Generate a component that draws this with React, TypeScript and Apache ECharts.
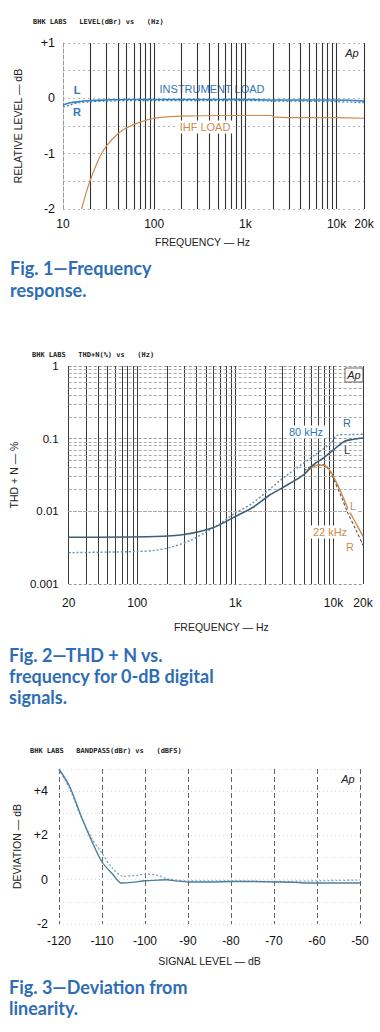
import React, { useEffect, useRef } from 'react';
import * as echarts from 'echarts';

// ---------- Fig. 1: frequency response ----------
const fig1Freq = [10, 12, 15, 20, 30, 50, 100, 200, 500, 1000, 2000, 5000, 10000, 20000];
const fig1InstL = [-0.12, -0.08, -0.06, -0.04, -0.03, -0.02, -0.02, -0.02, -0.02, -0.02, -0.03, -0.03, -0.03, -0.05];
const fig1InstR = [-0.16, -0.12, -0.08, -0.06, -0.05, -0.04, -0.04, -0.04, -0.04, -0.04, -0.05, -0.05, -0.06, -0.08];
const fig1IhfFreq = [16, 18, 20, 25, 30, 40, 50, 70, 100, 150, 200, 500, 1000, 1900, 2100, 5000, 10000, 20000];
const fig1Ihf = [-2.0, -1.7, -1.47, -1.08, -0.86, -0.64, -0.53, -0.43, -0.36, -0.33, -0.32, -0.31, -0.31, -0.31, -0.34, -0.35, -0.35, -0.36];
const fig1GridFreqs = [20, 30, 40, 50, 60, 70, 80, 90, 100, 200, 300, 400, 500, 600, 700, 800, 900, 1000, 2000, 3000, 4000, 5000, 6000, 7000, 8000, 9000, 10000, 20000];

// ---------- Fig. 2: THD+N vs frequency ----------
const fig2FreqL = [20, 150, 300, 600, 1000, 1500, 2200, 3000, 5000, 6000, 8000, 10000, 13000, 16000, 20000];
const fig2L80 = [0.0044, 0.0045, 0.0048, 0.006, 0.0085, 0.0113, 0.0165, 0.021, 0.032, 0.042, 0.055, 0.07, 0.092, 0.098, 0.102];
const fig2FreqR = [20, 100, 150, 220, 350, 480, 700, 1000, 1500, 3000, 6500, 9500, 11000, 15000, 20000];
const fig2R80 = [0.0027, 0.0028, 0.0029, 0.0032, 0.004, 0.005, 0.0068, 0.0095, 0.013, 0.028, 0.06, 0.088, 0.112, 0.114, 0.115];
const fig2Freq22 = [5000, 6000, 7000, 8000, 9000, 10000, 12000, 14000, 17000, 20000];
const fig2L22 = [0.032, 0.04, 0.043, 0.043, 0.038, 0.03, 0.018, 0.011, 0.0068, 0.0045];
const fig2R22 = [0.036, 0.042, 0.044, 0.044, 0.037, 0.028, 0.016, 0.0095, 0.0055, 0.0034];
const fig2GridFreqs = [20, 30, 40, 50, 60, 70, 80, 90, 100, 200, 300, 400, 500, 600, 700, 800, 900, 1000, 2000, 3000, 4000, 5000, 6000, 7000, 8000, 9000, 10000, 20000];
const fig2GridLevels = [0.002, 0.003, 0.004, 0.005, 0.006, 0.007, 0.008, 0.009, 0.02, 0.03, 0.04, 0.05, 0.06, 0.07, 0.08, 0.09, 0.2, 0.3, 0.4, 0.5, 0.6, 0.7, 0.8, 0.9];

// ---------- Fig. 3: deviation from linearity ----------
const fig3LevelL = [-120, -117.5, -115, -112.5, -110, -107.5, -105.5, -103, -100, -97, -95, -93, -90, -85, -80, -75, -70, -65, -62, -55, -50];
const fig3DevL = [5.0, 4.2, 2.95, 1.8, 0.8, 0.25, -0.15, -0.12, -0.05, -0.02, 0.0, -0.05, -0.1, -0.1, -0.08, -0.08, -0.1, -0.12, -0.15, -0.15, -0.15];
const fig3LevelR = [-120, -117.5, -115, -112.5, -110, -107.5, -105, -102, -100, -97, -95, -90, -80, -70, -62, -55, -50];
const fig3DevR = [5.0, 4.1, 2.9, 1.9, 1.2, 0.5, 0.15, 0.2, 0.25, 0.2, 0.05, -0.05, -0.05, -0.08, -0.06, -0.03, -0.02];

const BLUE = '#3580c2';
const BLUE_TEXT = '#2f78bd';
const ORANGE = '#cf8a4c';
const DARK = '#3f5f78';
const CAPTION = '#2e6db5';
const FONT = 'Liberation Sans';

const pairs = (xs: number[], ys: number[]) => xs.map((x, i) => [x, ys[i]]);
const fmtHz = (v: number) => {
  const r = Math.round(v);
  return r >= 1000 ? `${Math.round(r / 1000)}k` : String(r);
};

const labelStyle = { color: '#111', fontFamily: FONT, fontSize: 12 };
const nameStyle = { color: '#222', fontFamily: FONT, fontSize: 10.5 };

function txt(x: number, y: number, text: string, o: any = {}) {
  return {
    type: 'text',
    x,
    y,
    silent: true,
    style: {
      text,
      fill: o.fill || '#111',
      font: o.font || `11px ${FONT}`,
      textAlign: o.align || 'left',
      textVerticalAlign: o.valign || 'middle',
      lineHeight: o.lineHeight,
      backgroundColor: o.bg,
      padding: o.pad,
    },
  };
}

export default function App() {
  const ref = useRef<HTMLDivElement>(null);
  useEffect(() => {
    document.body.style.margin = '0';
    const chart = echarts.init(ref.current!, undefined, { renderer: 'svg' });
    const vLine = (vals: number[], color: string, type: string, width = 1) =>
      vals.map((v) => ({ xAxis: v, lineStyle: { color, type, width } }));
    const hLine = (vals: number[], color: string, type: string, width = 1) =>
      vals.map((v) => ({ yAxis: v, lineStyle: { color, type, width } }));

    const option: any = {
      animation: false,
      backgroundColor: '#fff',
      grid: [
        { left: 63, top: 43, width: 301, height: 166 },
        { left: 62, top: 366, width: 301, height: 218 },
        { left: 59, top: 769, width: 301, height: 155 },
      ],
      xAxis: [
        {
          type: 'log', gridIndex: 0, min: 10, max: 20000, logBase: 10,
          axisLine: { show: false }, axisTick: { show: false }, splitLine: { show: false },
          axisLabel: { ...labelStyle, formatter: fmtHz, margin: 9 },
          name: 'FREQUENCY — Hz', nameLocation: 'middle', nameGap: 27,
          nameTextStyle: { ...nameStyle, padding: [0, 22, 0, 0] },
        },
        {
          type: 'log', gridIndex: 1, min: 20, max: 20000, logBase: 10,
          axisLine: { show: false }, axisTick: { show: false }, splitLine: { show: false },
          axisLabel: { ...labelStyle, formatter: fmtHz, margin: 13 },
          name: 'FREQUENCY — Hz', nameLocation: 'middle', nameGap: 37,
          nameTextStyle: { ...nameStyle, padding: [0, 0, 0, 11] },
        },
        {
          type: 'value', gridIndex: 2, min: -120, max: -50, interval: 10,
          axisLine: { show: false }, axisTick: { show: false },
          splitLine: { show: true, lineStyle: { color: '#666', type: [5, 3], width: 1 } },
          axisLabel: { ...labelStyle, margin: 11 },
          name: 'SIGNAL LEVEL — dB', nameLocation: 'middle', nameGap: 31,
          nameTextStyle: { ...nameStyle },
        },
      ],
      yAxis: [
        {
          type: 'value', gridIndex: 0, min: -2, max: 1, interval: 0.5,
          axisLine: { show: true, lineStyle: { color: '#999', type: 'dashed' } },
          axisTick: { show: false },
          splitLine: { show: true, lineStyle: { color: '#b5b5b5', type: [2, 3] } },
          axisLabel: {
            ...labelStyle, fontSize: 12.5, margin: 8,
            formatter: (v: number) => (v === 1 ? '+1' : Number.isInteger(v) ? String(v) : ''),
          },
          name: 'RELATIVE LEVEL — dB', nameLocation: 'middle', nameGap: 40, nameRotate: 90,
          nameTextStyle: { ...nameStyle },
        },
        {
          type: 'log', gridIndex: 1, min: 0.001, max: 1, logBase: 10,
          axisLine: { show: false }, axisTick: { show: false },
          splitLine: { show: true, lineStyle: { color: '#999', type: [3, 2] } },
          axisLabel: {
            ...labelStyle, fontSize: 11.5, margin: 10,
            formatter: (v: number) => String(Number(v.toPrecision(1))),
          },
          name: 'THD + N — %', nameLocation: 'middle', nameGap: 40, nameRotate: 90,
          nameTextStyle: { ...nameStyle },
        },
        {
          type: 'value', gridIndex: 2, min: -2, max: 5, interval: 1,
          axisLine: { show: false }, axisTick: { show: false },
          splitLine: { show: true, lineStyle: { color: '#d6d6d6', type: [1, 3] } },
          axisLabel: {
            ...labelStyle, fontSize: 12.5, margin: 11,
            formatter: (v: number) => (v === 4 ? '+4' : v === 2 ? '+2' : v === 0 ? '0' : v === -2 ? '-2' : ''),
          },
          name: 'DEVIATION — dB', nameLocation: 'middle', nameGap: 35, nameRotate: 90,
          nameTextStyle: { ...nameStyle },
        },
      ],
      series: [
        // Fig. 1
        {
          type: 'line', xAxisIndex: 0, yAxisIndex: 0, name: 'IHF LOAD',
          data: pairs(fig1IhfFreq, fig1Ihf), showSymbol: false, smooth: 0.3,
          lineStyle: { color: ORANGE, width: 1.2 },
          markLine: {
            silent: true, symbol: 'none', z: 1, label: { show: false },
            data: vLine(fig1GridFreqs, '#333', 'solid', 1.1),
          },
        },
        {
          type: 'line', xAxisIndex: 0, yAxisIndex: 0, name: 'INSTRUMENT LOAD R',
          data: pairs(fig1Freq, fig1InstR), showSymbol: false, smooth: 0.3,
          lineStyle: { color: BLUE, width: 1.2, type: [2, 2] },
        },
        {
          type: 'line', xAxisIndex: 0, yAxisIndex: 0, name: 'INSTRUMENT LOAD L',
          data: pairs(fig1Freq, fig1InstL), showSymbol: false, smooth: 0.3,
          lineStyle: { color: BLUE, width: 1.6 },
        },
        // Fig. 2
        {
          type: 'line', xAxisIndex: 1, yAxisIndex: 1, name: '80 kHz R',
          data: pairs(fig2FreqR, fig2R80), showSymbol: false, smooth: 0.3,
          lineStyle: { color: '#6a8fae', width: 1.4, type: [2, 2] },
          markLine: {
            silent: true, symbol: 'none', z: 1, label: { show: false },
            data: [
              ...vLine(fig2GridFreqs, '#3a3a3a', 'solid', 1),
              ...hLine(fig2GridLevels, '#aaa', [3, 2] as any, 1),
            ],
          },
        },
        {
          type: 'line', xAxisIndex: 1, yAxisIndex: 1, name: '22 kHz R',
          data: pairs(fig2Freq22, fig2R22), showSymbol: false, smooth: 0.3,
          lineStyle: { color: '#555', width: 1.1, type: [3, 2] },
        },
        {
          type: 'line', xAxisIndex: 1, yAxisIndex: 1, name: '22 kHz L',
          data: pairs(fig2Freq22, fig2L22), showSymbol: false, smooth: 0.3,
          lineStyle: { color: ORANGE, width: 1.4 },
        },
        {
          type: 'line', xAxisIndex: 1, yAxisIndex: 1, name: '80 kHz L',
          data: pairs(fig2FreqL, fig2L80), showSymbol: false, smooth: 0.3,
          lineStyle: { color: DARK, width: 1.6 },
        },
        // Fig. 3
        {
          type: 'line', xAxisIndex: 2, yAxisIndex: 2, name: 'R',
          data: pairs(fig3LevelR, fig3DevR), showSymbol: false, smooth: 0.3,
          lineStyle: { color: '#7ea6c4', width: 1.3, type: [2, 2] },
        },
        {
          type: 'line', xAxisIndex: 2, yAxisIndex: 2, name: 'L',
          data: pairs(fig3LevelL, fig3DevL), showSymbol: false, smooth: 0.3,
          lineStyle: { color: '#4f7f9f', width: 1.4 },
        },
      ],
      graphic: [
        // headers
        txt(33, 22, 'BHK LABS   LEVEL(dBr) vs   (Hz)', { font: `bold 7px DejaVu Sans Mono`, fill: '#222' }),
        txt(32, 355, 'BHK LABS   THD+N(%) vs   (Hz)', { font: `bold 7px DejaVu Sans Mono`, fill: '#222' }),
        txt(30, 751, 'BHK LABS   BANDPASS(dBr) vs   (dBFS)', { font: `bold 7px DejaVu Sans Mono`, fill: '#222' }),
        // Ap marks
        txt(352, 53, 'Ap', { font: `italic 11px ${FONT}`, align: 'center', fill: '#222' }),
        { type: 'rect', shape: { x: 345, y: 368, width: 18, height: 14 }, style: { fill: '#fff', stroke: '#444', lineWidth: 0.8 }, z: 20 },
        { ...txt(354, 375, 'Ap', { font: `italic 11px ${FONT}`, align: 'center', fill: '#222' }), z: 21 },
        txt(348, 779, 'Ap', { font: `italic 11px ${FONT}`, align: 'center', fill: '#222' }),
        // Fig. 1 annotations
        txt(77, 90, 'L', { font: `bold 11px ${FONT}`, align: 'center', fill: BLUE_TEXT }),
        txt(77, 112, 'R', { font: `bold 11px ${FONT}`, align: 'center', fill: BLUE_TEXT }),
        txt(212, 89, 'INSTRUMENT LOAD', { font: `11px ${FONT}`, align: 'center', fill: BLUE_TEXT }),
        { ...txt(205, 127, 'IHF LOAD', { font: `11px ${FONT}`, align: 'center', fill: ORANGE, bg: '#fff', pad: [1, 3] }), z: 20 },
        // Fig. 2 annotations
        { ...txt(347, 423, 'R', { font: `11px ${FONT}`, align: 'center', fill: '#3d6a8c' }), z: 20 },
        { ...txt(306, 432, '80 kHz', { font: `11px ${FONT}`, align: 'center', fill: BLUE_TEXT, bg: '#fff', pad: [1, 2] }), z: 20 },
        { ...txt(347, 450, 'L', { font: `11px ${FONT}`, align: 'center', fill: '#333' }), z: 20 },
        { ...txt(353, 506, 'L', { font: `11px ${FONT}`, align: 'center', fill: ORANGE, bg: '#fff', pad: [1, 2] }), z: 20 },
        { ...txt(330, 532, '22 kHz', { font: `11px ${FONT}`, align: 'center', fill: ORANGE, bg: '#fff', pad: [1, 2] }), z: 20 },
        { ...txt(350, 547, 'R', { font: `11px ${FONT}`, align: 'center', fill: ORANGE, bg: '#fff', pad: [1, 2] }), z: 20 },
        // captions
        txt(10, 257, 'Fig. 1—Frequency\nresponse.', { font: `bold 18px Lato`, fill: CAPTION, valign: 'top', lineHeight: 22 }),
        txt(9, 644, 'Fig. 2—THD + N vs.\nfrequency for 0-dB digital\nsignals.', { font: `bold 18px Lato`, fill: CAPTION, valign: 'top', lineHeight: 21 }),
        txt(9, 977, 'Fig. 3—Deviation from\nlinearity.', { font: `bold 18px Lato`, fill: CAPTION, valign: 'top', lineHeight: 20.5 }),
      ],
    };
    chart.setOption(option);
    return () => chart.dispose();
  }, []);
  return <div ref={ref} style={{ width: 380, height: 1032 }} />;
}
